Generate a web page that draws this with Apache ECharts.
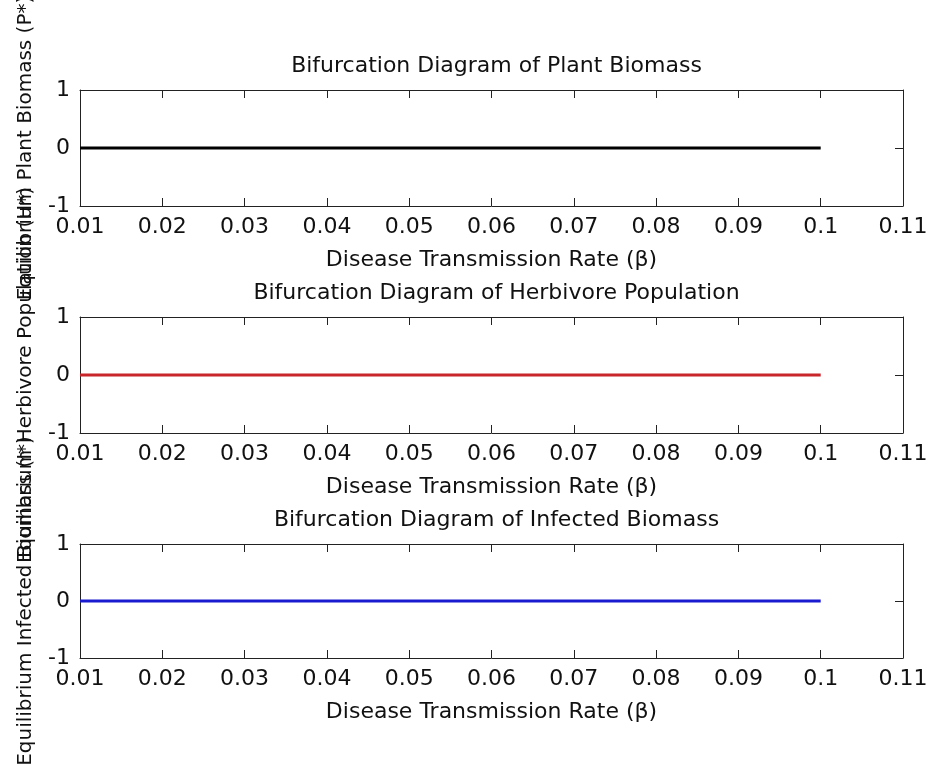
<!DOCTYPE html>
<html>
<head>
<meta charset="utf-8">
<script src="https://cdn.jsdelivr.net/npm/echarts@6/dist/echarts.min.js"></script>
<style>html,body{margin:0;padding:0;background:#fff}#c{width:926px;height:769px}</style>
</head>
<body>
<div id="c"></div>
<script>
// ---- data ----
var beta = [0.01, 0.02, 0.03, 0.04, 0.05, 0.06, 0.07, 0.08, 0.09, 0.10];
var plantEq = [0, 0, 0, 0, 0, 0, 0, 0, 0, 0];
var herbivoreEq = [0, 0, 0, 0, 0, 0, 0, 0, 0, 0];
var infectedEq = [0, 0, 0, 0, 0, 0, 0, 0, 0, 0];
var xTickLabels = ['0.01','0.02','0.03','0.04','0.05','0.06','0.07','0.08','0.09','0.1','0.11'];
var yTickLabels = ['-1','0','1'];
var titles = ['Bifurcation Diagram of Plant Biomass','Bifurcation Diagram of Herbivore Population','Bifurcation Diagram of Infected Biomass'];
var yNames = ['Equilibrium Plant Biomass (P*)','Equilibrium Herbivore Population (H*)','Equilibrium Infected Biomass (I*)'];
var xName = 'Disease Transmission Rate (\u03B2)';
var seriesData = [plantEq, herbivoreEq, infectedEq];
var colors = ['#000000', '#c8262b', '#1a1ad0'];

// ---- layout ----
var FONT = 'DejaVu Sans';
var FS = 22;
var FSY = 20;
var TXT = '#111';
var AX = '#222';
var gridTops = [90, 317, 544];
var gridH = [116, 116, 114];
var gridLeft = 80, gridW = 823;

function xl(v){ var i = Math.round((v - 0.01) / 0.01); return xTickLabels[i] != null ? xTickLabels[i] : ''; }
function yl(v){ var i = Math.round(v + 1); return yTickLabels[i] != null ? yTickLabels[i] : ''; }

var grid = [], xAxis = [], yAxis = [], series = [], title = [];
for (var k = 0; k < 3; k++) {
  grid.push({left: gridLeft, top: gridTops[k], width: gridW, height: gridH[k], containLabel: false, outerBoundsMode: 'none'});
  title.push({
    text: titles[k], left: gridLeft + gridW / 2, textAlign: 'center', top: gridTops[k] - 41,
    textStyle: {fontFamily: FONT, fontSize: FS, fontWeight: 'normal', color: TXT, lineHeight: 24}
  });
  var axLine = {show: true, onZero: false, lineStyle: {color: AX, width: 1}};
  var tick = {show: true, inside: true, length: 8, lineStyle: {color: AX, width: 1}};
  xAxis.push({
    type: 'value', gridIndex: k, position: 'bottom', min: 0.01, max: 0.11, interval: 0.01,
    axisLine: axLine, axisTick: tick, splitLine: {show: false},
    axisLabel: {formatter: xl, fontFamily: FONT, fontSize: FS, color: TXT, margin: 10},
    name: xName, nameLocation: 'middle', nameGap: 43,
    nameTextStyle: {fontFamily: FONT, fontSize: FS, color: TXT}
  });
  xAxis.push({
    type: 'value', gridIndex: k, position: 'top', min: 0.01, max: 0.11, interval: 0.01,
    axisLine: axLine, axisTick: tick, splitLine: {show: false}, axisLabel: {show: false}
  });
  yAxis.push({
    type: 'value', gridIndex: k, position: 'left', min: -1, max: 1, interval: 1,
    axisLine: axLine, axisTick: tick, splitLine: {show: false},
    axisLabel: {formatter: yl, fontFamily: FONT, fontSize: FS, color: TXT, margin: 10},
    name: yNames[k], nameLocation: 'middle', nameGap: 44,
    nameTextStyle: {fontFamily: FONT, fontSize: FSY, color: TXT}
  });
  yAxis.push({
    type: 'value', gridIndex: k, position: 'right', min: -1, max: 1, interval: 1,
    axisLine: axLine, axisTick: tick, splitLine: {show: false}, axisLabel: {show: false}
  });
  var d = [];
  for (var i = 0; i < beta.length; i++) d.push([beta[i], seriesData[k][i]]);
  series.push({
    type: 'line', xAxisIndex: 2 * k, yAxisIndex: 2 * k, data: d, showSymbol: false,
    lineStyle: {color: colors[k], width: 2.8}, itemStyle: {color: colors[k]}, animation: false
  });
}

var chart = echarts.init(document.getElementById('c'), null, {renderer: 'canvas'});
chart.setOption({
  backgroundColor: '#ffffff', animation: false,
  title: title, grid: grid, xAxis: xAxis, yAxis: yAxis, series: series
});
</script>
</body>
</html>
